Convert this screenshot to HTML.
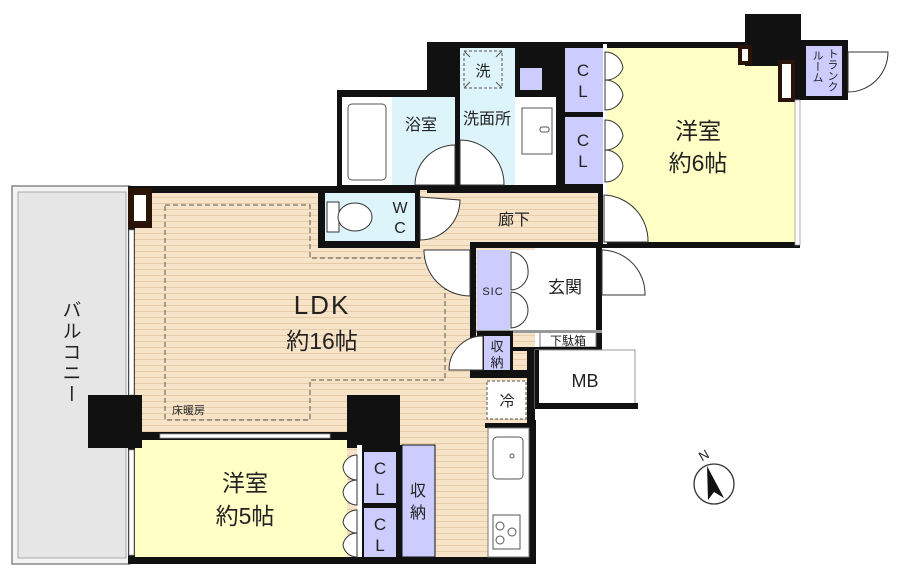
<!DOCTYPE html>
<html><head><meta charset="utf-8"><style>
html,body{margin:0;padding:0;background:#fff;width:900px;height:572px;overflow:hidden}
svg{display:block}
text{font-family:"Liberation Sans","Noto Sans CJK JP",sans-serif;fill:#222}
</style></head><body>
<svg width="900" height="572" viewBox="0 0 900 572" xmlns="http://www.w3.org/2000/svg">
<defs>
<pattern id="wood" width="8" height="6" patternUnits="userSpaceOnUse">
<rect width="8" height="6" fill="#f7e4c8"/><rect y="5" width="8" height="1" fill="#e6cda8"/>
</pattern>
</defs>
<!-- balcony -->
<rect x="12" y="186" width="118" height="378" fill="#f4f4f4" stroke="#888" stroke-width="1.5"/>
<rect x="18" y="192" width="108" height="366" fill="#e6e6e6" stroke="#aaa"/>
<text x="70" y="300" font-size="19" writing-mode="tb" letter-spacing="2">バルコニー</text>

<!-- wood floor -->
<rect x="130" y="186" width="405" height="378" fill="url(#wood)"/>

<!-- walls LDK -->
<rect x="128" y="186" width="192" height="7" fill="#111"/>
<rect x="128" y="186" width="7" height="378" fill="#111"/>
<rect x="129" y="230" width="5" height="165" fill="#fff" stroke="#999" stroke-width="0.8"/>
<rect x="129" y="450" width="5" height="105" fill="#fff" stroke="#999" stroke-width="0.8"/>
<rect x="128" y="557" width="407" height="7" fill="#111"/>
<rect x="529" y="420" width="7" height="144" fill="#111"/>
<rect x="128" y="188" width="24" height="40" fill="#2a1408"/>
<rect x="134" y="195" width="12" height="26" fill="#fff"/>

<!-- floor heating dashed -->
<polygon points="165,205 310,205 310,258 445,258 445,380 310,380 310,420 165,420" fill="none" stroke="#555" stroke-width="1" stroke-dasharray="5,3"/>
<text x="172" y="414" font-size="11">床暖房</text>
<text x="322" y="314" font-size="26" text-anchor="middle" letter-spacing="2">LDK</text>
<text x="322" y="349" font-size="23" text-anchor="middle">約16帖</text>

<!-- top block -->
<rect x="427" y="42" width="373" height="206" fill="#111"/>
<rect x="337" y="90" width="90" height="100" fill="#111"/>
<rect x="745" y="14" width="56" height="52" fill="#111"/>
<rect x="342" y="97" width="50" height="88" fill="#fff"/>
<rect x="348" y="104" width="38" height="76" rx="4" fill="#fff" stroke="#555"/>
<rect x="392" y="97" width="63" height="88" fill="#def4fb"/>
<text x="421" y="130" font-size="16" text-anchor="middle">浴室</text>
<rect x="460" y="48" width="55" height="137" fill="#def4fb"/>
<rect x="464" y="51" width="38" height="37" fill="none" stroke="#555" stroke-dasharray="3,2"/>
<line x1="464" y1="51" x2="470" y2="57" stroke="#555"/><line x1="502" y1="51" x2="496" y2="57" stroke="#555"/>
<line x1="464" y1="88" x2="470" y2="82" stroke="#555"/><line x1="502" y1="88" x2="496" y2="82" stroke="#555"/>
<text x="483" y="76" font-size="15" text-anchor="middle">洗</text>
<text x="487" y="124" font-size="16" text-anchor="middle">洗面所</text>
<rect x="515" y="97" width="41" height="88" fill="#fff"/>
<rect x="522" y="108" width="30" height="46" fill="#fff" stroke="#555"/>
<rect x="540" y="127" width="9" height="5" rx="2" fill="#fff" stroke="#555"/>
<rect x="520" y="68" width="22" height="22" fill="#ccccff"/>
<rect x="565" y="48" width="38" height="64" fill="#ccccff"/>
<rect x="565" y="117" width="38" height="67" fill="#ccccff"/>
<text x="583" y="76" font-size="17" text-anchor="middle">C</text><text x="583" y="97" font-size="17" text-anchor="middle">L</text>
<text x="583" y="146" font-size="17" text-anchor="middle">C</text><text x="583" y="167" font-size="17" text-anchor="middle">L</text>
<rect x="605" y="48" width="190" height="194" fill="#ffffc6"/>
<rect x="745" y="14" width="56" height="52" fill="#111"/>
<rect x="738" y="45" width="14" height="20" fill="#2a1408"/><rect x="742" y="49" width="6" height="12" fill="#fff"/>
<rect x="778" y="60" width="17" height="42" fill="#2a1408"/><rect x="782" y="64" width="9" height="34" fill="#fff"/>
<rect x="795" y="100" width="5" height="145" fill="#fff" stroke="#999" stroke-width="0.8"/>
<rect x="603" y="44" width="4" height="200" fill="#fff"/>
<text x="698" y="139" font-size="23" text-anchor="middle">洋室</text>
<text x="698" y="171" font-size="23" text-anchor="middle">約6帖</text>

<!-- WC -->
<rect x="318" y="186" width="102" height="62" fill="#111"/>
<rect x="325" y="193" width="90" height="48" fill="#def4fb"/>
<rect x="327" y="202" width="12" height="30" fill="#fff" stroke="#333"/>
<ellipse cx="355" cy="217" rx="17" ry="14" fill="#fff" stroke="#333"/>
<text x="400" y="213" font-size="16" text-anchor="middle">W</text>
<text x="400" y="233" font-size="16" text-anchor="middle">C</text>

<!-- hallway -->
<rect x="420" y="193" width="178" height="49" fill="url(#wood)"/>
<rect x="420" y="242" width="50" height="6" fill="url(#wood)"/>
<rect x="470" y="242" width="132" height="6" fill="#111"/>
<text x="514" y="225" font-size="16" text-anchor="middle">廊下</text>

<!-- trunk room -->
<rect x="800" y="40" width="48" height="60" fill="#111"/>
<rect x="806" y="46" width="36" height="50" fill="#ccccff"/>
<text x="832" y="48" font-size="11" writing-mode="tb">トランク</text>
<text x="817" y="50" font-size="11" writing-mode="tb">ルーム</text>
<path d="M848,52 L888,52 A40 40 0 0 1 848,92 Z" fill="#fff" stroke="#333"/>

<!-- entrance -->
<rect x="470" y="248" width="6" height="130" fill="#111"/>
<rect x="596" y="248" width="6" height="102" fill="#111"/>
<rect x="477" y="250" width="33" height="80" fill="#ccccff"/>
<text x="493" y="295" font-size="11" text-anchor="middle" letter-spacing="1">SIC</text>
<rect x="510" y="250" width="86" height="80" fill="#fff"/>
<text x="565" y="293" font-size="17" text-anchor="middle">玄関</text>
<rect x="540" y="331" width="56" height="16" fill="#fff" stroke="#777"/>
<text x="568" y="345" font-size="12" text-anchor="middle">下駄箱</text>
<rect x="476" y="330" width="126" height="3" fill="#999"/>
<rect x="476" y="347" width="126" height="4" fill="#111"/>
<rect x="477" y="331" width="36" height="47" fill="#111"/>
<rect x="484" y="336" width="26" height="34" fill="#ccccff"/>
<text x="497" y="351" font-size="13" text-anchor="middle">収</text>
<text x="497" y="367" font-size="13" text-anchor="middle">納</text>
<rect x="470" y="370" width="65" height="8" fill="#111"/>
<rect x="527" y="348" width="8" height="80" fill="#111"/>
<rect x="535" y="350" width="100" height="58" fill="#fff" stroke="#999"/>
<rect x="535" y="403" width="103" height="6" fill="#111"/>
<rect x="535" y="350" width="4" height="58" fill="#111"/>
<text x="585" y="387" font-size="18" text-anchor="middle">MB</text>

<!-- fridge & kitchen -->
<rect x="487" y="381" width="39" height="38" fill="#fff" stroke="#555" stroke-dasharray="3,2"/>
<text x="507" y="406" font-size="15" text-anchor="middle">冷</text>
<rect x="485" y="423" width="44" height="5" fill="#111"/>
<rect x="488" y="428" width="41" height="129" fill="#fff" stroke="#777"/>
<rect x="493" y="437" width="30" height="42" rx="4" fill="#fff" stroke="#555"/>
<circle cx="512" cy="456" r="2" fill="none" stroke="#555"/>
<rect x="493" y="515" width="27" height="34" fill="#fff" stroke="#555"/>
<circle cx="500" cy="526" r="4" fill="none" stroke="#555"/><circle cx="512" cy="532" r="4" fill="none" stroke="#555"/><circle cx="500" cy="540" r="4" fill="none" stroke="#555"/>

<!-- room 5 -->
<rect x="135" y="440" width="212" height="117" fill="#ffffc6"/>
<rect x="135" y="432" width="215" height="8" fill="#111"/>
<rect x="160" y="434" width="170" height="4" fill="#fff" stroke="#999" stroke-width="0.8"/>
<rect x="88" y="395" width="54" height="53" fill="#111"/>
<rect x="347" y="395" width="53" height="53" fill="#111"/>
<rect x="357" y="445" width="5" height="112" fill="#fff"/>
<rect x="362" y="445" width="40" height="112" fill="#111"/>
<rect x="364" y="452" width="32" height="51" fill="#ccccff"/>
<rect x="364" y="508" width="32" height="49" fill="#ccccff"/>
<text x="380" y="474" font-size="17" text-anchor="middle">C</text><text x="380" y="495" font-size="17" text-anchor="middle">L</text>
<text x="380" y="530" font-size="17" text-anchor="middle">C</text><text x="380" y="551" font-size="17" text-anchor="middle">L</text>
<rect x="402" y="445" width="33" height="112" fill="#ccccff" stroke="#111"/>
<text x="418" y="496" font-size="16" text-anchor="middle">収</text>
<text x="418" y="518" font-size="16" text-anchor="middle">納</text>
<text x="245" y="491" font-size="23" text-anchor="middle">洋室</text>
<text x="245" y="524" font-size="23" text-anchor="middle">約5帖</text>

<!-- doors -->
<g fill="#fff" stroke="#333" stroke-width="1">
<path d="M605,52 A 18 18 0 0 1 623,68 A 18 18 0 0 1 605,80 Z"/>
<path d="M605,80 A 18 18 0 0 1 623,95 A 18 18 0 0 1 605,110 Z"/>
<path d="M605,120 A 18 18 0 0 1 623,136 A 18 18 0 0 1 605,150 Z"/>
<path d="M605,150 A 18 18 0 0 1 623,166 A 18 18 0 0 1 605,182 Z"/>
<path d="M604,195 L604,242 L648,242 A 46 46 0 0 0 604,195 Z"/>
<path d="M602,250 L602,295 L645,295 A 44 44 0 0 0 602,250 Z"/>
<path d="M420,197 L420,240 A 40 40 0 0 0 460,200 Z"/>
<path d="M455,185 L415,185 A 40 40 0 0 1 455,145 Z"/>
<path d="M460,185 L460,140 A 44 44 0 0 1 504,185 Z"/>
<path d="M470,250 L424,250 A 46 46 0 0 0 470,296 Z"/>
<path d="M483,336 L483,370 L449,370 A 34 34 0 0 1 483,336 Z"/>
<path d="M511,252 A 18 18 0 0 1 528,270 A 18 18 0 0 1 511,290 Z"/>
<path d="M511,292 A 18 18 0 0 1 528,310 A 18 18 0 0 1 511,328 Z"/>
<path d="M357,455 A 14 14 0 0 0 343,467 A 14 14 0 0 0 357,480 Z"/>
<path d="M357,480 A 14 14 0 0 0 343,492 A 14 14 0 0 0 357,505 Z"/>
<path d="M357,510 A 14 14 0 0 0 343,522 A 14 14 0 0 0 357,533 Z"/>
<path d="M357,533 A 14 14 0 0 0 343,545 A 14 14 0 0 0 357,557 Z"/>
</g>

<!-- compass -->
<circle cx="714" cy="484" r="20" fill="#fff" stroke="#333" stroke-width="1.3"/>
<polygon points="707,466 724,498 714,492 708,500" fill="#111"/>
<text x="700" y="462" font-size="13" transform="rotate(-30 700 458)">N</text>
</svg>
</body></html>
